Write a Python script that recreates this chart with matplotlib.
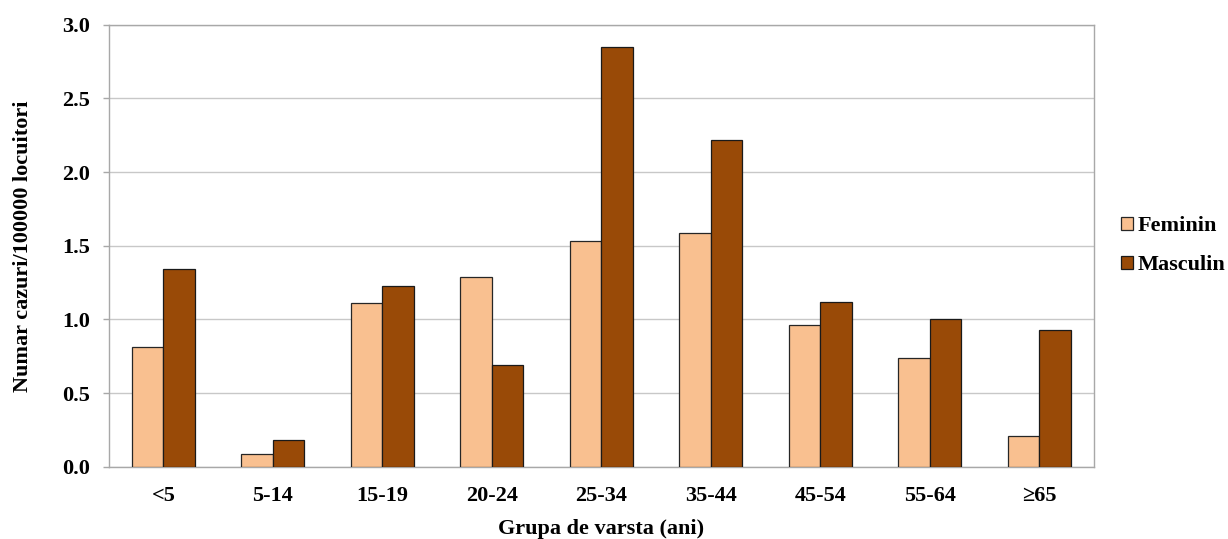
import numpy as np
import matplotlib.pyplot as plt

# incidence per 100000 inhabitants, by age group and sex
grupe = ['<5', '5-14', '15-19', '20-24', '25-34', '35-44', '45-54', '55-64', '≥65']
feminin = [0.81, 0.09, 1.11, 1.29, 1.53, 1.59, 0.96, 0.74, 0.21]
masculin = [1.34, 0.18, 1.23, 0.69, 2.85, 2.22, 1.12, 1.00, 0.93]

plt.rcParams['font.family'] = ['Liberation Serif', 'DejaVu Serif']
plt.rcParams['font.weight'] = 'bold'
FS = 16

fig = plt.figure(figsize=(12.28, 5.39), dpi=100)
ax = fig.add_axes([0.0885, 0.134, 0.8025, 0.820])

x = np.arange(len(grupe))
w = 0.288
ax.bar(x - w / 2, feminin, w, color='#F9C090', edgecolor='#262626', linewidth=0.9, label='Feminin', zorder=3)
ax.bar(x + w / 2, masculin, w, color='#994A07', edgecolor='#1a1a1a', linewidth=0.9, label='Masculin', zorder=3)

ax.set_xlim(-0.5, len(grupe) - 0.5)
ax.set_ylim(0, 3.0)
yt = np.arange(0, 3.01, 0.5)
ax.set_yticks(yt)
ax.set_yticklabels([f'{v:.1f}' for v in yt], fontsize=FS, fontweight='bold')
ax.set_xticks(x)
ax.set_xticklabels(grupe, fontsize=FS, fontweight='bold')
ax.tick_params(axis='x', length=0, pad=14)
ax.tick_params(axis='y', length=4.3, width=1.0, color='#A8A8A8', pad=9)
ax.grid(axis='y', color='#C8C8C8', linewidth=1.0, zorder=0)
for s in ax.spines.values():
    s.set_color('#A8A8A8')
    s.set_linewidth(1.0)

ax.set_ylabel('Numar cazuri/100000 locuitori', fontsize=FS, fontweight='bold', labelpad=21)
ax.set_xlabel('Grupa de varsta (ani)', fontsize=FS, fontweight='bold', labelpad=9)

ax.legend(loc='center left', bbox_to_anchor=(1.027, 0.5), frameon=False,
          prop={'size': FS, 'weight': 'bold'}, handlelength=0.55, handleheight=0.55,
          handletextpad=0.2, labelspacing=0.85, borderpad=0, borderaxespad=0)

fig.savefig('out.png', dpi=100)
